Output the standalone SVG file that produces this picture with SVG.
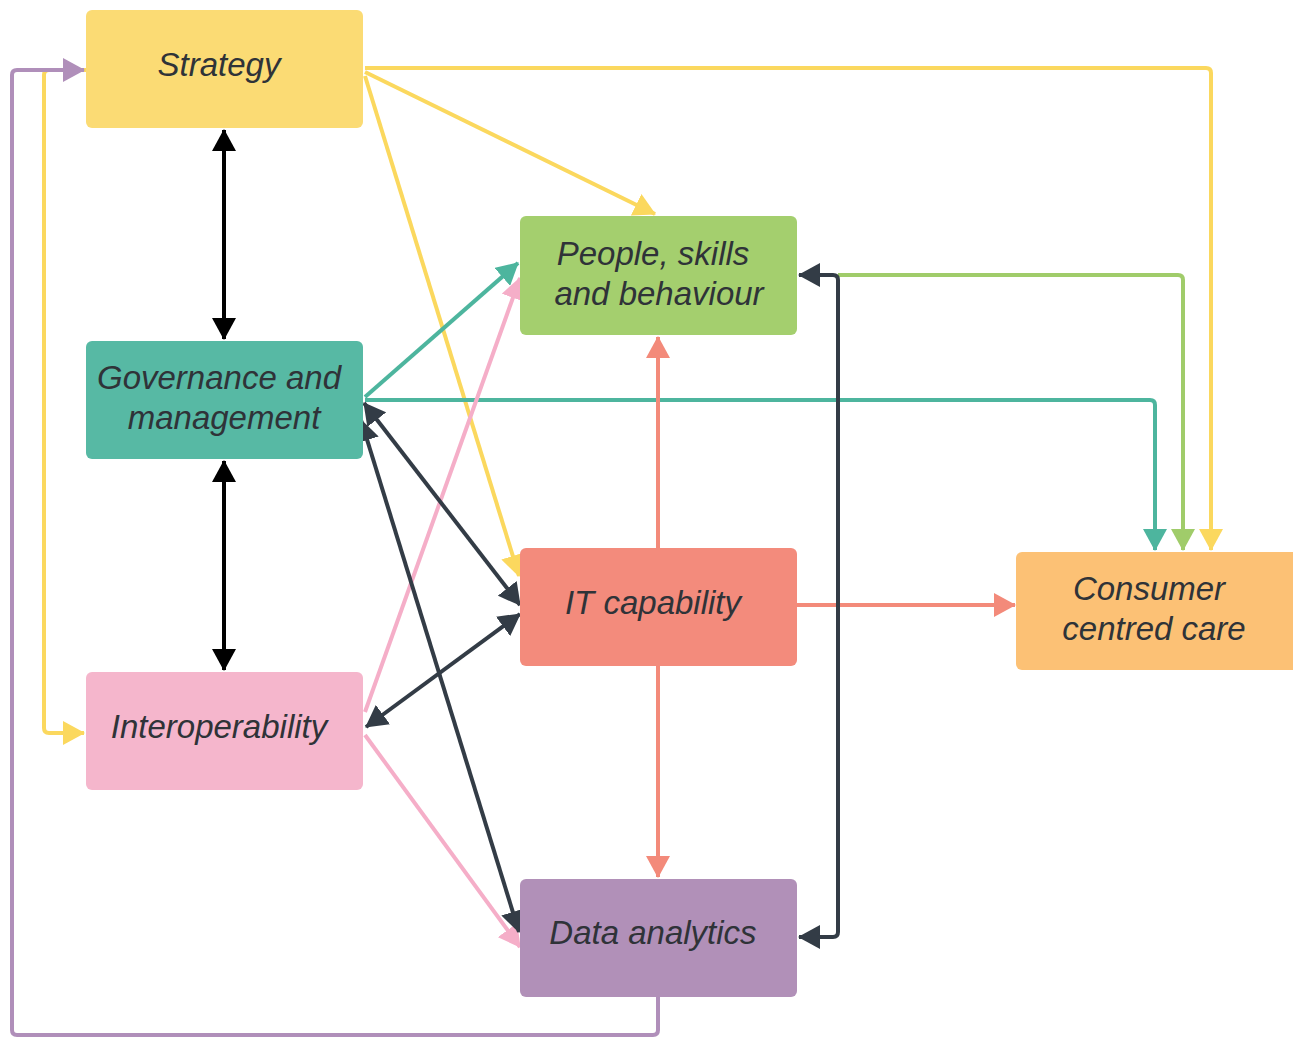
<svg xmlns="http://www.w3.org/2000/svg" width="1293" height="1038" viewBox="0 0 1293 1038">
<style>
.lbl{font-family:"Liberation Sans",Arial,sans-serif;font-style:italic;font-size:33px;fill:#2f3338;text-anchor:middle}
.c{fill:none;stroke-width:4;stroke-linejoin:round}
</style>
<defs>
<marker id="aY" viewBox="0 0 22 24" markerWidth="22" markerHeight="24" refX="21" refY="12" orient="auto-start-reverse" markerUnits="userSpaceOnUse"><path d="M0,0 L22,12 L0,24 z" fill="#FBD85E"/></marker>
<marker id="aT" viewBox="0 0 22 24" markerWidth="22" markerHeight="24" refX="21" refY="12" orient="auto-start-reverse" markerUnits="userSpaceOnUse"><path d="M0,0 L22,12 L0,24 z" fill="#4DB59E"/></marker>
<marker id="aG" viewBox="0 0 22 24" markerWidth="22" markerHeight="24" refX="21" refY="12" orient="auto-start-reverse" markerUnits="userSpaceOnUse"><path d="M0,0 L22,12 L0,24 z" fill="#A0CC6A"/></marker>
<marker id="aP" viewBox="0 0 22 24" markerWidth="22" markerHeight="24" refX="21" refY="12" orient="auto-start-reverse" markerUnits="userSpaceOnUse"><path d="M0,0 L22,12 L0,24 z" fill="#F5AEC8"/></marker>
<marker id="aR" viewBox="0 0 22 24" markerWidth="22" markerHeight="24" refX="21" refY="12" orient="auto-start-reverse" markerUnits="userSpaceOnUse"><path d="M0,0 L22,12 L0,24 z" fill="#F38A7A"/></marker>
<marker id="aD" viewBox="0 0 22 24" markerWidth="22" markerHeight="24" refX="21" refY="12" orient="auto-start-reverse" markerUnits="userSpaceOnUse"><path d="M0,0 L22,12 L0,24 z" fill="#333C46"/></marker>
<marker id="aB" viewBox="0 0 22 24" markerWidth="22" markerHeight="24" refX="21" refY="12" orient="auto-start-reverse" markerUnits="userSpaceOnUse"><path d="M0,0 L22,12 L0,24 z" fill="#000"/></marker>
<marker id="aV" viewBox="0 0 22 24" markerWidth="22" markerHeight="24" refX="21" refY="12" orient="auto-start-reverse" markerUnits="userSpaceOnUse"><path d="M0,0 L22,12 L0,24 z" fill="#B08FBA"/></marker>
</defs>
<rect width="1293" height="1038" fill="#fff"/>
<g id="connectors">
<path class="c" stroke="#FBD85E" d="M86,70 H49 Q44,70 44,75 V728 Q44,733 49,733 H84" marker-end="url(#aY)"/>
<path class="c" stroke="#B08FBA" d="M658,997 V1030 Q658,1035 653,1035 H17 Q12,1035 12,1030 V75 Q12,70 17,70 H84" marker-end="url(#aV)"/>
<path class="c" stroke="#FBD85E" d="M365,68 H1206 Q1211,68 1211,73 V550" marker-end="url(#aY)"/>
<path class="c" stroke="#FBD85E" d="M365,72 L655,214" marker-end="url(#aY)"/>
<path class="c" stroke="#FBD85E" d="M365,76 L519,576" marker-end="url(#aY)"/>
<path class="c" stroke="#4DB59E" d="M365,397 L518,263" marker-end="url(#aT)"/>
<path class="c" stroke="#4DB59E" d="M365,400 H1150 Q1155,400 1155,405 V550" marker-end="url(#aT)"/>
<path class="c" stroke="#A0CC6A" d="M838,275 H1178 Q1183,275 1183,280 V550" marker-end="url(#aG)"/>
<path class="c" stroke="#F5AEC8" d="M365,712 L520,278" marker-end="url(#aP)"/>
<path class="c" stroke="#F5AEC8" d="M365,735 L520,947" marker-end="url(#aP)"/>
<path class="c" stroke="#F38A7A" d="M658,548 V337" marker-end="url(#aR)"/>
<path class="c" stroke="#F38A7A" d="M658,666 V877" marker-end="url(#aR)"/>
<path class="c" stroke="#F38A7A" d="M797,605 H1015" marker-end="url(#aR)"/>
<path class="c" stroke="#333C46" d="M799,275 H833 Q838,275 838,280 V932 Q838,937 833,937 H799" marker-start="url(#aD)" marker-end="url(#aD)"/>
<path class="c" stroke="#333C46" d="M364,403 L520,605" marker-start="url(#aD)" marker-end="url(#aD)"/>
<path class="c" stroke="#333C46" d="M361,420 L519,932" marker-start="url(#aD)" marker-end="url(#aD)"/>
<path class="c" stroke="#333C46" d="M366,727 L520,614" marker-start="url(#aD)" marker-end="url(#aD)"/>
<path class="c" stroke="#000" d="M224,130 V339" marker-start="url(#aB)" marker-end="url(#aB)"/>
<path class="c" stroke="#000" d="M224,461 V670" marker-start="url(#aB)" marker-end="url(#aB)"/>
</g>
<g id="strategy"><rect x="86" y="10" width="277" height="118" rx="6" fill="#FBDB74"/><text class="lbl" x="219" y="76">Strategy</text></g>
<g id="governance"><rect x="86" y="341" width="277" height="118" rx="6" fill="#57B9A4"/><text class="lbl" x="219" y="389">Governance and</text><text class="lbl" x="224" y="429">management</text></g>
<g id="interoperability"><rect x="86" y="672" width="277" height="118" rx="6" fill="#F5B6CC"/><text class="lbl" x="219" y="738">Interoperability</text></g>
<g id="people"><rect x="520" y="216" width="277" height="119" rx="6" fill="#A4CF6E"/><text class="lbl" x="653" y="265">People, skills</text><text class="lbl" x="659" y="305">and behaviour</text></g>
<g id="it"><rect x="520" y="548" width="277" height="118" rx="6" fill="#F38B7C"/><text class="lbl" x="653" y="614">IT capability</text></g>
<g id="data"><rect x="520" y="879" width="277" height="118" rx="6" fill="#B190B8"/><text class="lbl" x="653" y="944">Data analytics</text></g>
<g id="consumer"><rect x="1016" y="552" width="282" height="118" rx="6" fill="#FCC175"/><text class="lbl" x="1149" y="600">Consumer</text><text class="lbl" x="1154" y="640">centred care</text></g>
</svg>
